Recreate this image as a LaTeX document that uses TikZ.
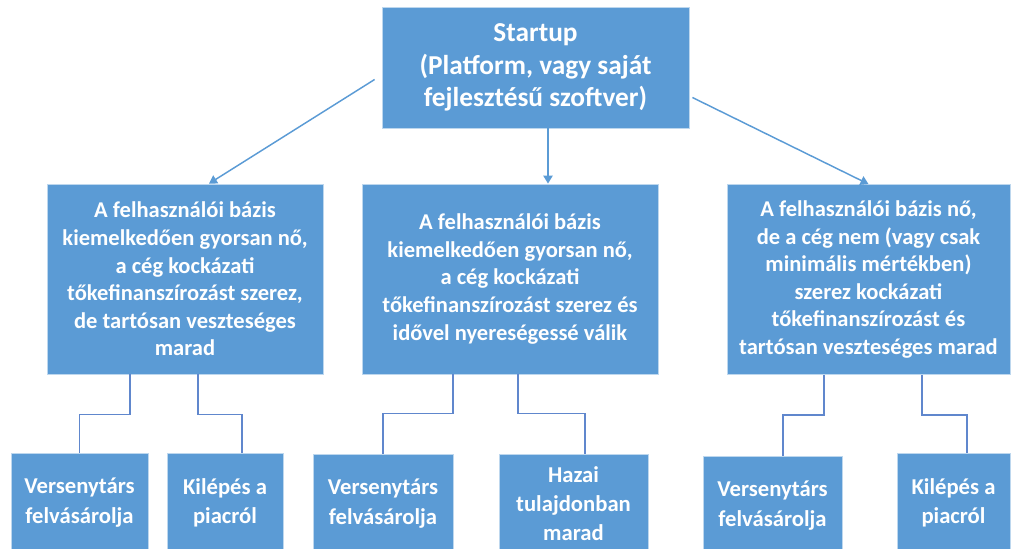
\documentclass[tikz,border=0pt]{standalone}
\usepackage{fontspec}
\setmainfont{Carlito}
\usetikzlibrary{arrows.meta,calc}
\definecolor{boxblue}{RGB}{91,155,213}
\definecolor{linkblue}{RGB}{68,114,196}

\begin{document}
\begin{tikzpicture}[x=0.75pt,y=-0.75pt,
		box/.style={fill=boxblue, draw=white!60!boxblue, line width=0.6pt, text=white, align=center, inner sep=0pt},
		topbox/.style={box, font=\fontsize{20.5}{24.5}\selectfont\bfseries},
		midbox/.style={box, minimum height=142.5pt, font=\fontsize{16.9}{20.7}\selectfont\bfseries},
		endbox/.style={box, minimum height=74.25pt, font=\fontsize{17}{22}\selectfont\bfseries},
		arr/.style={draw=boxblue, line width=1.1pt, -{Triangle[width=7pt,length=6pt]}},
		link/.style={draw=linkblue!85!white, line width=1.2pt}]
			%%%%% START %%%%%
			
			\useasboundingbox (0,0) rectangle (1013,549);
			
			\node[topbox, minimum width=230.25pt, minimum height=90.75pt] (start) at (535.5,67.5) {Startup\\(Platform, vagy saját\\fejlesztésű szoftver)};
			
			\node[midbox, minimum width=207pt] (grow) at (185,279) {A felhasználói bázis\\kiemelkedően gyorsan nő,\\a cég kockázati\\tőkefinanszírozást szerez,\\de tartósan veszteséges\\marad};
			\node[midbox, minimum width=222pt] (profit) at (510,279) {A felhasználói bázis\\kiemelkedően gyorsan nő,\\a cég kockázati\\tőkefinanszírozást szerez és\\idővel nyereségessé válik};
			\node[midbox, minimum width=212.25pt] (slow) at (868.5,279.5) {A felhasználói bázis nő,\\de a cég nem (vagy csak\\minimális mértékben)\\szerez kockázati\\tőkefinanszírozást és\\tartósan veszteséges marad};
			
			\node[endbox, minimum width=102.75pt] (buy1) at (79.5,502.5) {Versenytárs\\felvásárolja};
			\node[endbox, minimum width=87pt] (exit1) at (225,502.5) {Kilépés a\\piacról};
			\node[endbox, minimum width=105pt] (buy2) at (383,503.5) {Versenytárs\\felvásárolja};
			\node[endbox, minimum width=111.75pt] (home) at (573.5,503.5) {Hazai\\tulajdonban\\marad};
			\node[endbox, minimum width=104.25pt] (buy3) at (772.5,505.5) {Versenytárs\\felvásárolja};
			\node[endbox, minimum width=84.75pt] (exit3) at (953.5,502.5) {Kilépés a\\piacról};
			
			\draw[arr] ($(start.west)+(-7,12)$) -- ($(grow.north)+(24,0)$);
			\draw[arr] ($(start.south)+(12.5,0)$) -- ($(profit.north)+(38,0)$);
			\draw[arr] ($(start.east)+(3,30)$) -- (slow.north);
			
			\draw[link] ($(grow.south)+(-55,0)$) -- ++(0,40) -| (buy1.north);
			\draw[link] ($(grow.south)+(13,0)$) -- ++(0,40) -| ($(exit1.north)+(17,0)$);
			\draw[link] ($(profit.south)+(-57,0)$) -- ++(0,39) -| (buy2.north);
			\draw[link] ($(profit.south)+(8,0)$) -- ++(0,39) -| ($(home.north)+(11.5,0)$);
			\draw[link] ($(slow.south)+(-44.5,0)$) -- ++(0,40) -| ($(buy3.north)+(10.5,0)$);
			\draw[link] ($(slow.south)+(53.5,0)$) -- ++(0,40) -| ($(exit3.north)+(13.5,0)$);
			
			%%%%% END %%%%%
\end{tikzpicture}
\end{document}
